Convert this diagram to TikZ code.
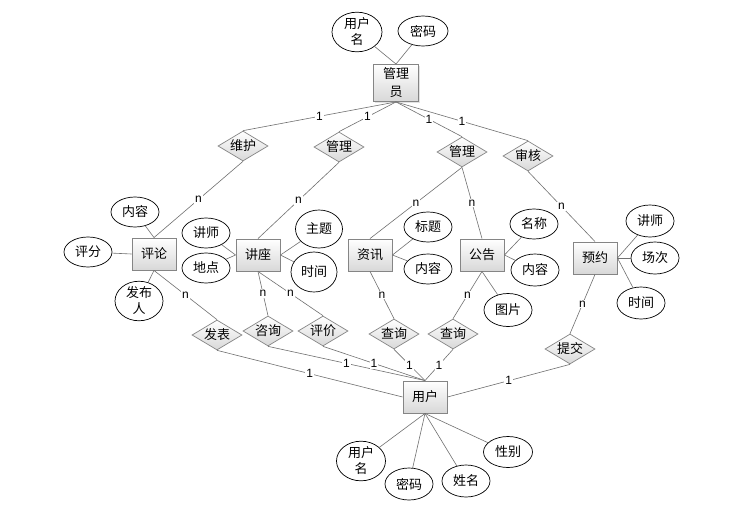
\documentclass[tikz,border=0pt]{standalone}
\usepackage{fontspec}
\setmainfont{Noto Sans CJK SC}
\newfontfamily\erlatin{Liberation Sans}
\usepackage{xcolor}
\definecolor{erline}{HTML}{707070}
\definecolor{eredge}{HTML}{858585}
\definecolor{ershade}{HTML}{D8D8D8}
\usepackage{tikz}
\usetikzlibrary{shapes.geometric,shadows}
\tikzset{
  erentity/.style={draw=eredge,line width=0.9pt,top color=white,bottom color=ershade,drop shadow={shadow xshift=1.2pt,shadow yshift=-1.2pt,fill=gray!45},minimum width=44pt,minimum height=32pt,inner sep=0pt,align=center,font=\fontsize{13}{18}\selectfont},
  errel/.style={diamond,aspect=1.67,draw=eredge,line width=0.7pt,top color=white,bottom color=ershade,minimum width=50pt,minimum height=30pt,inner sep=0pt,font=\fontsize{13}{18}\selectfont},
  erattr/.style={ellipse,draw=black,line width=0.7pt,fill=white,minimum width=48pt,minimum height=30pt,inner sep=0pt,align=center,font=\fontsize{13}{16}\selectfont},
  erlink/.style={draw=erline,line width=0.6pt},
  erlabel/.style={font=\erlatin\fontsize{12}{12}\selectfont,fill=white,inner sep=1pt},
}
\begin{document}
\begin{tikzpicture}[x=1pt,y=-1pt]
\useasboundingbox[fill=white] (0,0) rectangle (749,517);
\node[erentity,minimum width=45pt,minimum height=37pt] (admin) at (396,83) {管理\\员};
\node[erentity] (comment) at (154,254) {评论};
\node[erentity] (lecture) at (258,255) {讲座};
\node[erentity] (news) at (370,255) {资讯};
\node[erentity] (notice) at (482,255) {公告};
\node[erentity] (booking) at (595,258) {预约};
\node[erentity] (user) at (425,397) {用户};
\node[errel] (maint) at (243,146) {维护};
\node[errel] (mgra) at (339,147) {管理};
\node[errel] (mgrb) at (462,152) {管理};
\node[errel] (audit) at (528,156) {审核};
\node[errel] (post) at (217,335) {发表};
\node[errel] (consult) at (268,331) {咨询};
\node[errel] (rate) at (323,331) {评价};
\node[errel] (querya) at (394,334) {查询};
\node[errel] (queryb) at (453,334) {查询};
\node[errel] (submit) at (570,349) {提交};
\node[erattr,minimum width=50pt,minimum height=34pt] (aname) at (357,32) {用户\\名};
\node[erattr,minimum width=50pt] (apwd) at (423,31) {密码};
\node[erattr] (cctx) at (135,212) {内容};
\node[erattr] (cscore) at (88,252) {评分};
\node[erattr,minimum height=33pt] (cauth) at (139,301) {发布\\人};
\node[erattr] (lteach) at (206,233) {讲师};
\node[erattr] (lplace) at (206,268) {地点};
\node[erattr,minimum width=47pt,minimum height=38pt] (ltopic) at (319,229) {主题};
\node[erattr,minimum width=46pt,minimum height=40pt] (ltime) at (314,272) {时间};
\node[erattr] (ntitle) at (428,227) {标题};
\node[erattr] (nctx) at (428,269) {内容};
\node[erattr] (oname) at (534,224) {名称};
\node[erattr,minimum height=32pt] (octx) at (535,270) {内容};
\node[erattr,minimum height=33pt] (opic) at (508,310) {图片};
\node[erattr,minimum height=32pt] (bteach) at (650,221) {讲师};
\node[erattr,minimum height=32pt] (bsess) at (655,258) {场次};
\node[erattr,minimum height=32pt] (btime) at (641,303) {时间};
\node[erattr,minimum width=49pt,minimum height=33pt] (uname) at (361,461) {用户\\名};
\node[erattr,minimum height=32pt] (upwd) at (409,484) {密码};
\node[erattr,minimum height=32pt] (ureal) at (466,481) {姓名};
\node[erattr,minimum width=49pt,minimum height=31pt] (usex) at (508,452) {性别};
\draw[erlink] (aname) -- (admin.north);
\draw[erlink] (apwd) -- (admin.north);
\draw[erlink] (admin.south) -- node[erlabel]{1} (maint.north);
\draw[erlink] (admin.south) -- node[erlabel]{1} (mgra.north);
\draw[erlink] (admin.south) -- node[erlabel]{1} (mgrb.north);
\draw[erlink] (admin.south) -- node[erlabel]{1} (audit.north);
\draw[erlink] (maint.south) -- node[erlabel]{n} (comment.north);
\draw[erlink] (mgra.south) -- node[erlabel]{n} (lecture.north);
\draw[erlink] (mgrb.south) -- node[erlabel]{n} (news.north);
\draw[erlink] (mgrb.south) -- node[erlabel]{n} (notice.north);
\draw[erlink] (audit.south) -- node[erlabel]{n} (booking.north);
\draw[erlink] (cctx) -- (comment.north);
\draw[erlink] (cscore) -- (comment.west);
\draw[erlink] (cauth) -- (comment.south);
\draw[erlink] (lteach) -- (lecture.west);
\draw[erlink] (lplace) -- (lecture.west);
\draw[erlink] (ltopic) -- (lecture.east);
\draw[erlink] (ltime) -- (lecture.east);
\draw[erlink] (ntitle) -- (news.east);
\draw[erlink] (nctx) -- (news.east);
\draw[erlink] (oname) -- (notice.east);
\draw[erlink] (octx) -- (notice.east);
\draw[erlink] (opic) -- (notice.south);
\draw[erlink] (bteach) -- (booking.east);
\draw[erlink] (bsess) -- (booking.east);
\draw[erlink] (btime) -- (booking.east);
\draw[erlink] (comment.south) -- node[erlabel]{n} (post.north);
\draw[erlink] (lecture.south) -- node[erlabel]{n} (consult.north);
\draw[erlink] (lecture.south) -- node[erlabel]{n} (rate.north);
\draw[erlink] (news.south) -- node[erlabel]{n} (querya.north);
\draw[erlink] (notice.south) -- node[erlabel]{n} (queryb.north);
\draw[erlink] (booking.south) -- node[erlabel]{n} (submit.north);
\draw[erlink] (post.south) -- node[erlabel]{1} (user.west);
\draw[erlink] (consult.south) -- node[erlabel]{1} (user.north);
\draw[erlink] (rate.south) -- node[erlabel]{1} (user.north);
\draw[erlink] (querya.south) -- node[erlabel]{1} (user.north);
\draw[erlink] (queryb.south) -- node[erlabel]{1} (user.north);
\draw[erlink] (submit.south) -- node[erlabel]{1} (user.east);
\draw[erlink] (user.south) -- (uname);
\draw[erlink] (user.south) -- (upwd);
\draw[erlink] (user.south) -- (ureal);
\draw[erlink] (user.south) -- (usex);
\end{tikzpicture}
\end{document}
